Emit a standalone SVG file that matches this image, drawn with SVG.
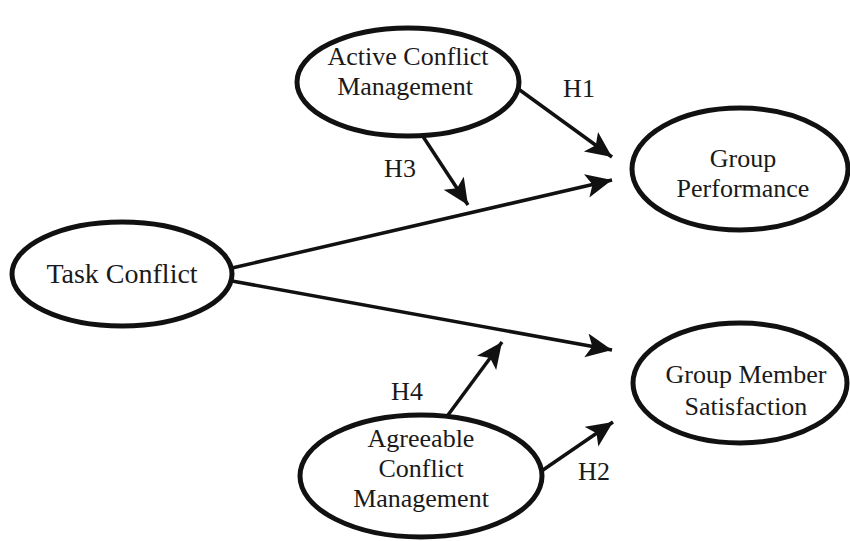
<svg xmlns="http://www.w3.org/2000/svg" width="850" height="541" viewBox="0 0 850 541">
<style>
  .node ellipse { fill: #ffffff; stroke: #111111; stroke-width: 5; }
  .node text, .lbl { font-family: "Liberation Serif", "Times New Roman", serif; font-size: 26px; fill: #1a1a1a; text-anchor: middle; }
  .conn line { stroke: #111111; stroke-width: 3.5; marker-end: url(#ah); }
</style>
<defs>
  <marker id="ah" markerUnits="userSpaceOnUse" markerWidth="30" markerHeight="26" refX="26" refY="12" orient="auto">
    <path d="M0,0 L26,12 L0,24 L6,12 Z" fill="#111111"/>
  </marker>
</defs>
<rect width="850" height="541" fill="#ffffff"/>
<g id="connectors" class="conn">
  <line x1="517" y1="88" x2="612" y2="157"/>
  <line x1="422" y1="135" x2="468" y2="205"/>
  <line x1="232" y1="268" x2="612" y2="180"/>
  <line x1="232" y1="281" x2="612" y2="350"/>
  <line x1="448" y1="415" x2="502" y2="342"/>
  <line x1="543" y1="470" x2="613" y2="422"/>
</g>
<g id="labels">
  <text class="lbl" x="579" y="97">H1</text>
  <text class="lbl" x="400" y="177">H3</text>
  <text class="lbl" x="407" y="400">H4</text>
  <text class="lbl" x="594" y="480">H2</text>
</g>
<g id="active" class="node">
  <ellipse cx="408" cy="82" rx="111" ry="54"/>
  <text x="408" y="65">Active Conflict</text>
  <text x="405" y="95">Management</text>
</g>
<g id="task" class="node">
  <ellipse cx="122" cy="274" rx="110" ry="52"/>
  <text x="122" y="283" style="font-size:28px">Task Conflict</text>
</g>
<g id="agreeable" class="node">
  <ellipse cx="421" cy="476" rx="121" ry="61"/>
  <text x="421" y="447">Agreeable</text>
  <text x="421" y="477">Conflict</text>
  <text x="421" y="507">Management</text>
</g>
<g id="performance" class="node">
  <ellipse cx="740" cy="169" rx="108" ry="61"/>
  <text x="743" y="167">Group</text>
  <text x="743" y="197">Performance</text>
</g>
<g id="satisfaction" class="node">
  <ellipse cx="740" cy="383" rx="107" ry="60"/>
  <text x="746" y="383">Group Member</text>
  <text x="746" y="415">Satisfaction</text>
</g>
</svg>
